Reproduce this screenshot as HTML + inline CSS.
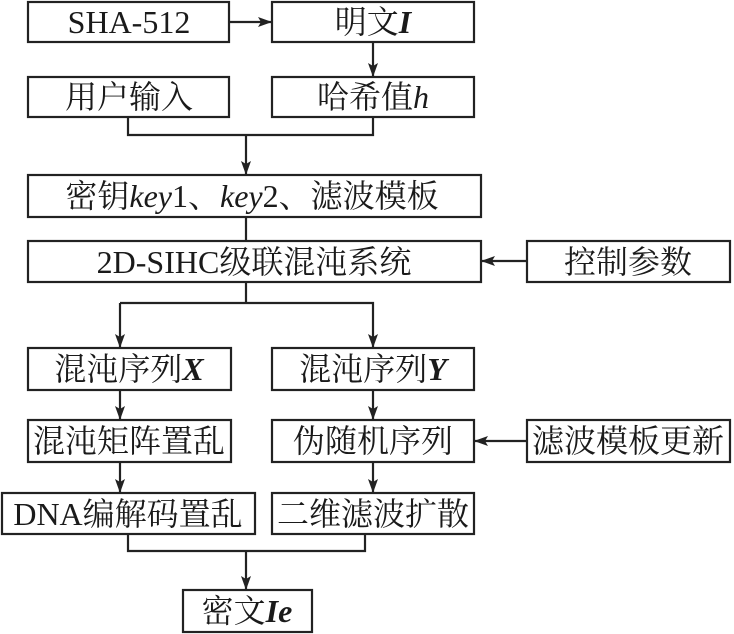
<!DOCTYPE html>
<html><head><meta charset="utf-8"><style>
html,body{margin:0;padding:0;background:#fff;}
svg{display:block;}
text{font-family:"Liberation Serif","DejaVu Serif","Noto Serif CJK SC",serif;font-size:32px;fill:#1a1a1a;text-anchor:middle;}
.b{fill:#fff;stroke:#222;stroke-width:2.2;}
.l{fill:none;stroke:#222;stroke-width:2.2;}
.i{font-style:italic;}
.bi{font-style:italic;font-weight:bold;}
</style></head><body>
<svg width="734" height="634" viewBox="0 0 734 634" xmlns="http://www.w3.org/2000/svg" font-family="Liberation Serif, Noto Serif CJK SC, serif">
<defs><marker id="a" markerWidth="14" markerHeight="10" refX="13" refY="5" orient="auto" markerUnits="userSpaceOnUse"><path d="M0,0 L14,5 L0,10 L3,5 Z" fill="#222"/></marker></defs>
<rect class="b" x="28" y="2" width="201" height="40"/>
<rect class="b" x="272" y="2" width="202" height="40"/>
<rect class="b" x="28" y="77" width="201" height="40"/>
<rect class="b" x="272" y="77" width="202" height="40"/>
<rect class="b" x="28" y="175" width="453" height="42"/>
<rect class="b" x="28" y="241" width="453" height="41"/>
<rect class="b" x="527" y="241" width="203" height="41"/>
<rect class="b" x="28" y="348" width="203" height="42"/>
<rect class="b" x="272" y="348" width="202" height="42"/>
<rect class="b" x="28" y="420" width="203" height="42"/>
<rect class="b" x="272" y="420" width="202" height="42"/>
<rect class="b" x="527" y="420" width="203" height="42"/>
<rect class="b" x="2" y="493" width="253" height="41"/>
<rect class="b" x="272" y="493" width="202" height="41"/>
<rect class="b" x="183" y="590" width="129" height="42"/>
<path class="l" d="M229,22 H271" marker-end="url(#a)"/>
<path class="l" d="M373,42 V76" marker-end="url(#a)"/>
<path class="l" d="M128,117 V135 H373 V117"/>
<path class="l" d="M246,135 V174" marker-end="url(#a)"/>
<path class="l" d="M246,217 V241"/>
<path class="l" d="M527,261 H482" marker-end="url(#a)"/>
<path class="l" d="M246,282 V303"/>
<path class="l" d="M120,303 H373 V347" marker-end="url(#a)"/>
<path class="l" d="M120,303 V347" marker-end="url(#a)"/>
<path class="l" d="M120,390 V419" marker-end="url(#a)"/>
<path class="l" d="M373,390 V419" marker-end="url(#a)"/>
<path class="l" d="M527,441 H475" marker-end="url(#a)"/>
<path class="l" d="M120,462 V492" marker-end="url(#a)"/>
<path class="l" d="M373,462 V492" marker-end="url(#a)"/>
<path class="l" d="M128,534 V551 H365 V534"/>
<path class="l" d="M246,551 V589" marker-end="url(#a)"/>
<text x="129" y="33">SHA-512</text>
<text x="373" y="33">明文<tspan class="bi">I</tspan></text>
<text x="129" y="108">用户输入</text>
<text x="373" y="108">哈希值<tspan class="i">h</tspan></text>
<text x="252" y="207">密钥<tspan class="i">key</tspan>1、<tspan class="i">key</tspan>2、滤波模板</text>
<text x="254" y="273">2D-SIHC级联混沌系统</text>
<text x="628" y="273">控制参数</text>
<text x="129" y="380">混沌序列<tspan class="bi">X</tspan></text>
<text x="373" y="380">混沌序列<tspan class="bi">Y</tspan></text>
<text x="129" y="452">混沌矩阵置乱</text>
<text x="373" y="452">伪随机序列</text>
<text x="628" y="452">滤波模板更新</text>
<text x="128" y="525">DNA编解码置乱</text>
<text x="373" y="525">二维滤波扩散</text>
<text x="247" y="622">密文<tspan class="bi">Ie</tspan></text>
</svg>
</body></html>
